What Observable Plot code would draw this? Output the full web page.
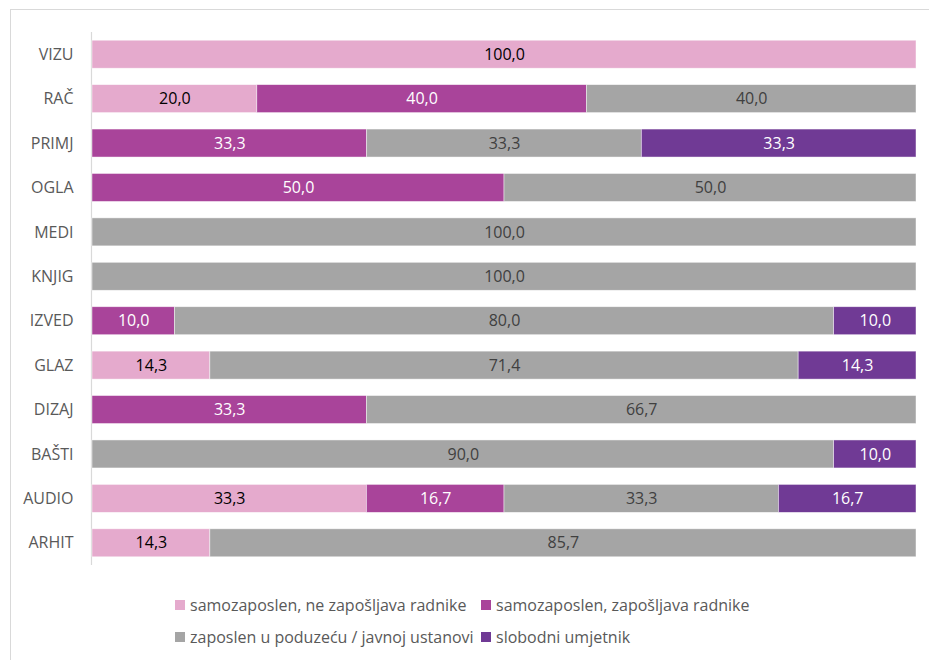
<!DOCTYPE html>
<html>
<head>
<meta charset="utf-8">
<script src="https://cdn.jsdelivr.net/npm/d3@7"></script>
<script src="https://cdn.jsdelivr.net/npm/@observablehq/plot@0.6"></script>
<style>
  body { margin: 0; background: #fff; font-family: "Open Sans", sans-serif; }
  #frame { position: absolute; left: 10px; top: 9px; width: 960px; height: 700px;
           border: 1px solid #d9d9d9; box-sizing: border-box; }
  #chart { position: absolute; left: 0; top: 0; }
  #legend { position: absolute; left: 175px; top: 589px; display: grid;
            grid-template-columns: 306px auto; font-size: 16px; color: #595959; }
  .item { display: flex; align-items: center; height: 32px; white-space: nowrap; }
  .sw { width: 10px; height: 10px; margin-right: 5px; flex: none; }
</style>
</head>
<body>
<div id="frame"></div>
<div id="chart"></div>
<div id="legend"></div>
<script>
// Occupations, top to bottom
const categories = ["VIZU", "RAČ", "PRIMJ", "OGLA", "MEDI", "KNJIG", "IZVED", "GLAZ", "DIZAJ", "BAŠTI", "AUDIO", "ARHIT"];

// Employment status groups (stack order, left to right)
const seriesNames = [
  "samozaposlen, ne zapošljava radnike",
  "samozaposlen, zapošljava radnike",
  "zaposlen u poduzeću / javnoj ustanovi",
  "slobodni umjetnik"
];

// Shares (%) per category, one array per group
const selfNoStaff   = [100.0, 20.0, 0,    0,    0,     0,     0,    14.3, 0,    0,    33.3, 14.3];
const selfWithStaff = [0,     40.0, 33.3, 50.0, 0,     0,     10.0, 0,    33.3, 0,    16.7, 0];
const employed      = [0,     40.0, 33.3, 50.0, 100.0, 100.0, 80.0, 71.4, 66.7, 90.0, 33.3, 85.7];
const freelance     = [0,     0,    33.3, 0,    0,     0,     10.0, 14.3, 0,    10.0, 16.7, 0];

const seriesValues = [selfNoStaff, selfWithStaff, employed, freelance];
const colors = ["#e5aacd", "#a9449a", "#a5a5a5", "#703a95"];
const labelColors = ["#000000", "#ffffff", "#404040", "#ffffff"];

const rows = [];
seriesNames.forEach((s, i) => {
  categories.forEach((c, j) => {
    const v = seriesValues[i][j];
    if (v > 0) rows.push({category: c, series: s, value: v});
  });
});

const fmt = v => d3.format(".1f")(v).replace(".", ",");
const stackOpts = {x: "value", y: "category", z: "series", offset: "normalize"};

const plot = Plot.plot({
  width: 929,
  height: 575,
  marginLeft: 92,
  marginRight: 13,
  marginTop: 32,
  marginBottom: 10,
  style: {fontFamily: "Open Sans, sans-serif", fontSize: "16px", color: "#595959", background: "transparent"},
  x: {domain: [0, 1], axis: null},
  y: {domain: categories, paddingInner: 0.37, paddingOuter: 0.185, round: false, label: null, tickSize: 0, tickPadding: 19},
  color: {domain: seriesNames, range: colors},
  marks: [
    Plot.ruleX([0], {stroke: "#d9d9d9", strokeWidth: 1.2, dx: -1}),
    Plot.barX(rows, Plot.stackX({...stackOpts, fill: "series", stroke: "#ffffff", strokeOpacity: 0.6, strokeWidth: 0.75})),
    ...seriesNames.map((s, i) =>
      Plot.textX(rows, Plot.stackX({
        ...stackOpts,
        text: d => d.series === s ? fmt(d.value) : null,
        fill: labelColors[i],
        fontSize: 16
      }))
    )
  ]
});
document.getElementById("chart").appendChild(plot);

// Legend below the plot: two columns, two rows
const legend = d3.select("#legend");
seriesNames.forEach((s, i) => {
  const item = legend.append("div").attr("class", "item");
  item.append("div").attr("class", "sw").style("background", colors[i]);
  item.append("span").text(s);
});
</script>
</body>
</html>
